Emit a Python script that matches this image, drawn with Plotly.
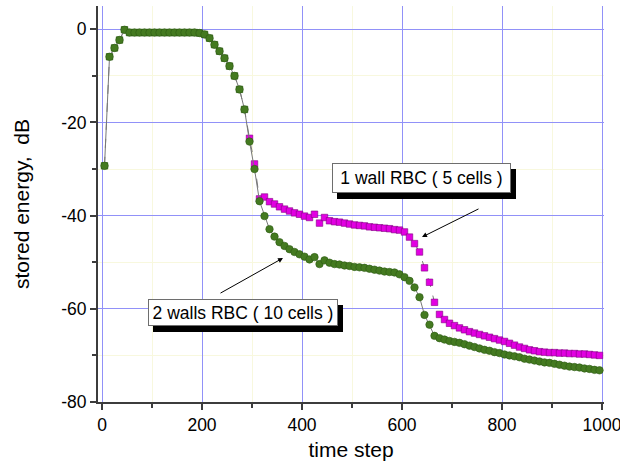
import plotly.graph_objects as go

time_step = [5, 15, 25, 35, 45, 55, 65, 75, 85, 95,
             105, 115, 125, 135, 145, 155, 165, 175, 185, 195,
             205, 215, 225, 235, 245, 255, 265, 275, 285, 295,
             305, 315, 325, 335, 345, 355, 365, 375, 385, 395,
             405, 415, 425, 435, 445, 455, 465, 475, 485, 495,
             505, 515, 525, 535, 545, 555, 565, 575, 585, 595,
             605, 615, 625, 635, 645, 655, 665, 675, 685, 695,
             705, 715, 725, 735, 745, 755, 765, 775, 785, 795,
             805, 815, 825, 835, 845, 855, 865, 875, 885, 895,
             905, 915, 925, 935, 945, 955, 965, 975, 985, 995]

walls2_10cells = [-29.3, -5.9, -4.0, -2.3, -0.1, -0.7, -0.7, -0.7, -0.7, -0.7,
                  -0.7, -0.7, -0.7, -0.7, -0.7, -0.7, -0.7, -0.7, -0.7, -0.8,
                  -1.1, -1.9, -3.3, -4.7, -6.2, -7.9, -10.0, -12.9, -17.2, -24.1,
                  -30.0, -36.9, -40.1, -42.9, -44.5, -45.7, -46.5, -47.2, -47.8, -48.3,
                  -48.8, -49.4, -48.9, -50.4, -49.6, -50.1, -50.4, -50.5, -50.7, -50.8,
                  -51.0, -51.1, -51.2, -51.4, -51.6, -51.8, -52.0, -52.1, -52.2, -52.6,
                  -53.2, -54.0, -55.4, -57.5, -61.3, -63.4, -65.8, -66.3, -66.6, -66.9,
                  -67.1, -67.3, -67.6, -67.9, -68.2, -68.5, -68.8, -69.0, -69.3, -69.5,
                  -69.8, -70.0, -70.2, -70.4, -70.7, -70.9, -71.1, -71.3, -71.5, -71.6,
                  -71.8, -72.0, -72.2, -72.4, -72.5, -72.6, -72.8, -72.9, -73.1, -73.2]

wall1_5cells = [-29.3, -5.9, -4.0, -2.3, -0.1, -0.7, -0.7, -0.7, -0.7, -0.7,
                -0.7, -0.7, -0.7, -0.7, -0.7, -0.7, -0.7, -0.7, -0.7, -0.8,
                -1.1, -1.9, -3.3, -4.7, -6.2, -7.9, -10.0, -12.9, -17.2, -23.4,
                -28.9, -36.4, -36.0, -37.0, -37.5, -38.1, -38.6, -39.0, -39.4, -39.7,
                -40.1, -40.4, -39.7, -41.6, -40.4, -41.1, -41.3, -41.4, -41.6, -41.8,
                -42.0, -42.1, -42.2, -42.4, -42.5, -42.6, -42.7, -42.8, -43.0, -43.1,
                -43.5, -44.6, -46.0, -47.8, -51.2, -54.3, -58.6, -61.2, -62.3, -63.1,
                -63.6, -64.1, -64.5, -64.9, -65.2, -65.5, -65.8, -66.1, -66.4, -66.7,
                -67.0, -67.4, -67.8, -68.2, -68.5, -68.8, -69.0, -69.2, -69.3, -69.4,
                -69.4, -69.5, -69.5, -69.6, -69.6, -69.7, -69.7, -69.8, -69.9, -70.0]

x_ticks = [0, 200, 400, 600, 800, 1000]
y_ticks = [0, -20, -40, -60, -80]

label_1wall = "1 wall RBC ( 5 cells )"
label_2walls = "2 walls RBC ( 10 cells )"

GREEN = "rgb(68,122,32)"
GREEN_EDGE = "rgb(45,90,20)"
MAGENTA = "rgb(226,0,226)"
MAGENTA_EDGE = "rgb(130,0,130)"

# early shared part of the curve is shown in green
mag_colors = [GREEN if t < 290 else MAGENTA for t in time_step]
mag_edges = [GREEN_EDGE if t < 290 else MAGENTA_EDGE for t in time_step]

fig = go.Figure()
fig.add_trace(go.Scatter(
    x=time_step, y=wall1_5cells, mode="lines+markers",
    line=dict(color="rgb(120,120,120)", width=1, dash="dash"),
    marker=dict(symbol="square", size=6.5, color=mag_colors,
                line=dict(color=mag_edges, width=0.6)),
    showlegend=False, name=label_1wall))
fig.add_trace(go.Scatter(
    x=time_step, y=walls2_10cells, mode="lines+markers",
    line=dict(color="rgb(120,120,120)", width=1),
    marker=dict(symbol="circle", size=7.5, color=GREEN,
                line=dict(color=GREEN_EDGE, width=0.6)),
    showlegend=False, name=label_2walls))

font_family = "Liberation Sans, Arial, sans-serif"

def boxed(text, x, y, w, h):
    # drop shadow (blank box) then the labelled box
    fig.add_annotation(x=x, y=y, xref="x", yref="y", text=" ", showarrow=False,
                       font=dict(family=font_family, size=17.5, color="black"),
                       bgcolor="black", bordercolor="black", borderwidth=1,
                       width=w, height=h, borderpad=2, xshift=5, yshift=-6)
    fig.add_annotation(x=x, y=y, xref="x", yref="y", text=text, showarrow=False,
                       font=dict(family=font_family, size=17.5, color="black"),
                       bgcolor="white", bordercolor="rgb(110,110,110)", borderwidth=1,
                       width=w, height=h, borderpad=2)

boxed(label_1wall, 638, -31.9, 173, 24)
boxed(label_2walls, 282, -60.8, 184, 21)

# arrows
fig.add_annotation(x=640, y=-44.6, ax=756, ay=-38.4, xref="x", yref="y",
                   axref="x", ayref="y", text="", showarrow=True,
                   arrowhead=2, arrowsize=1, arrowwidth=1, arrowcolor="black")
fig.add_annotation(x=362, y=-49.1, ax=234, ay=-56.8, xref="x", yref="y",
                   axref="x", ayref="y", text="", showarrow=True,
                   arrowhead=2, arrowsize=1, arrowwidth=1, arrowcolor="black")

fig.update_layout(
    width=620, height=466,
    margin=dict(l=98, r=16, t=6, b=64),
    paper_bgcolor="white", plot_bgcolor="white",
    font=dict(family=font_family, color="black"),
    xaxis=dict(
        range=[-8, 1004], tickvals=x_ticks, ticktext=[str(v) for v in x_ticks],
        showgrid=True, gridcolor="rgb(145,145,248)", gridwidth=1,
        zeroline=False, showline=True, linecolor="rgb(60,60,60)", linewidth=2,
        ticks="outside", ticklen=6, tickwidth=1.5, tickcolor="rgb(60,60,60)",
        tickfont=dict(size=17.5), ticklabeloverflow="allow", automargin=False,
        minor=dict(dtick=100, tick0=0, showgrid=True, gridcolor="rgb(248,248,222)",
                   ticks="outside", ticklen=4, tickcolor="rgb(60,60,60)"),
        title=dict(text="time step", font=dict(size=21), standoff=8),
    ),
    yaxis=dict(
        range=[-80, 5], tickvals=y_ticks, ticktext=[str(v) for v in y_ticks],
        showgrid=True, gridcolor="rgb(145,145,248)", gridwidth=1,
        zeroline=False, showline=True, linecolor="rgb(60,60,60)", linewidth=2,
        ticks="outside", ticklen=6, tickwidth=1.5, tickcolor="rgb(60,60,60)",
        tickfont=dict(size=17.5), ticklabeloverflow="allow", automargin=False,
        minor=dict(dtick=10, tick0=0, showgrid=True, gridcolor="rgb(248,248,222)",
                   ticks="outside", ticklen=4, tickcolor="rgb(60,60,60)"),
        title=dict(text="stored energy,  dB", font=dict(size=21), standoff=26),
    ),
)

fig.write_html("out.html")
